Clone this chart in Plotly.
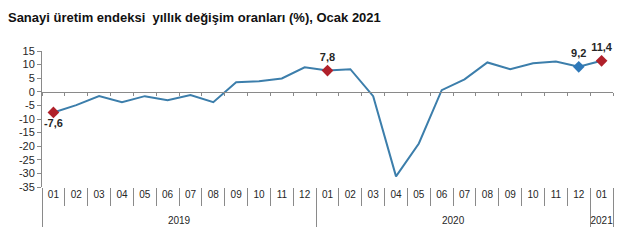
import plotly.graph_objects as go

# ---- data ----
years = ["2019"] * 12 + ["2020"] * 12 + ["2021"]
months = ["01", "02", "03", "04", "05", "06", "07", "08", "09", "10", "11", "12"] * 2 + ["01"]
values = [-7.6, -4.9, -1.6, -3.8, -1.6, -3.1, -1.2, -3.8, 3.5, 3.9, 4.9, 9.0,
          7.8, 8.3, -1.6, -31.1, -19.0, 0.6, 4.6, 10.8, 8.3, 10.5, 11.1, 9.2, 11.4]
red_points = [("2019", "01"), ("2020", "01"), ("2021", "01")]
blue_points = [("2020", "12")]
y_ticks = list(range(15, -40, -5))
title = "Sanayi üretim endeksi  yıllık değişim oranları (%), Ocak 2021"

FONT = "Arial, 'Liberation Sans', sans-serif"
LINE_C = "#3C7EAB"
RED_C = "#B0202A"
BLUE_C = "#2E78B8"
AX_C = "#8A8A8A"
TXT_C = "#262626"

ymin, ymax = -35, 15

# month labels get an extra empty line so the year row sits lower
month_lbl = [m + "<br>\u00a0" for m in months]


def fmt(v):
    return f"{v:.1f}".replace(".", ",")


def pick(points):
    xs_y, xs_m, ys, txt = [], [], [], []
    for (yr, mo) in points:
        for i in range(len(values)):
            if years[i] == yr and months[i] == mo:
                xs_y.append(yr)
                xs_m.append(month_lbl[i])
                ys.append(values[i])
                txt.append(fmt(values[i]))
    return xs_y, xs_m, ys, txt


fig = go.Figure()

# invisible trace to carry the zero-line axis
fig.add_trace(go.Scatter(
    x=[f"{y}-{m}" for y, m in zip(years, months)], y=values,
    xaxis="x2", mode="markers", marker=dict(opacity=0),
    hoverinfo="skip", showlegend=False))

fig.add_trace(go.Scatter(
    x=[years, month_lbl], y=values, mode="lines",
    line=dict(color=LINE_C, width=2), showlegend=False))

ry, rm, rv, rt = pick(red_points)
fig.add_trace(go.Scatter(
    x=[ry, rm], y=rv, mode="markers+text", cliponaxis=False,
    marker=dict(symbol="diamond", size=9, color=RED_C),
    text=rt,
    textposition=["bottom center" if v < 0 else "top center" for v in rv],
    textfont=dict(family=FONT, size=11, color=TXT_C, weight="bold"),
    showlegend=False))

by, bm, bv, bt = pick(blue_points)
fig.add_trace(go.Scatter(
    x=[by, bm], y=bv, mode="markers+text", cliponaxis=False,
    marker=dict(symbol="diamond", size=9, color=BLUE_C),
    text=bt, textposition="top center",
    textfont=dict(family=FONT, size=11, color=TXT_C, weight="bold"),
    showlegend=False))

n = len(values)
fig.update_layout(
    width=633, height=246,
    margin=dict(l=42, r=20, t=51, b=59),
    paper_bgcolor="white", plot_bgcolor="white",
    font=dict(family=FONT, size=10, color=TXT_C),
    title=dict(text=title, x=0.0126, xanchor="left", y=0.93, yanchor="middle",
               font=dict(family=FONT, size=13, color="#111", weight="bold")),
    xaxis=dict(
        type="multicategory", range=[-0.5, n - 0.5],
        showline=False, showgrid=False, zeroline=False,
        ticks="outside", tickson="boundaries", ticklen=18, tickcolor=AX_C, tickwidth=1,
        showdividers=True, dividercolor=AX_C, dividerwidth=1,
        tickfont=dict(family=FONT, size=10, color=TXT_C),
    ),
    xaxis2=dict(
        type="category", overlaying="x", anchor="free",
        position=(0 - ymin) / (ymax - ymin), side="bottom",
        range=[-0.5, n - 0.5], showline=True, linecolor=AX_C, linewidth=1,
        ticks="outside", tickson="boundaries", ticklen=3, tickcolor=AX_C,
        showticklabels=False, showgrid=False, zeroline=False,
    ),
    yaxis=dict(
        range=[ymin, ymax], tickvals=y_ticks, ticktext=[str(v) for v in y_ticks],
        showline=True, linecolor=AX_C, linewidth=1,
        ticks="outside", ticklen=4, tickcolor=AX_C,
        showgrid=False, zeroline=False,
        tickfont=dict(family=FONT, size=11, color=TXT_C),
    ),
)

fig.write_html("out.html")
